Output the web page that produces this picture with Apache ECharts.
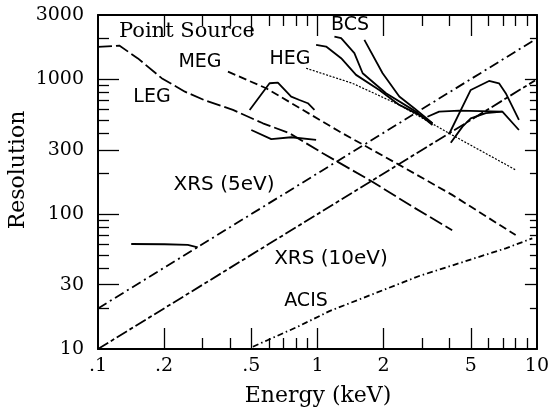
<!DOCTYPE html>
<html>
<head>
<meta charset="utf-8">
<script src="https://cdn.jsdelivr.net/npm/echarts@6/dist/echarts.min.js"></script>
<style>html,body{margin:0;padding:0;background:#fff;}#c{width:552px;height:409px;}</style>
</head>
<body>
<div id="c"></div>
<script>
// ---- tick definitions ----
const xTickValues = [0.1, 0.2, 0.5, 1, 2, 5, 10];
const xTickLabels = ['.1', '.2', '.5', '1', '2', '5', '10'];
const xMajorTicks = [0.2, 0.5, 1, 2, 5];
const xMinorTicks = [0.3, 0.4, 0.6, 0.7, 0.8, 0.9, 3, 4, 6, 7, 8, 9];
const yTickValues = [10, 30, 100, 300, 1000, 3000];
const yTickLabels = ['10', '30', '100', '300', '1000', '3000'];
const yMajorTicks = [30, 100, 300, 1000];
const yMinorTicks = [20, 40, 50, 60, 70, 80, 90, 200, 400, 500, 600, 700, 800, 900, 2000];

// ---- series data (energy keV, resolution) ----
const legE = [0.1, 0.125, 0.152, 0.195, 0.249, 0.306, 0.412, 0.564, 0.746, 1.057, 1.778, 2.703, 4.11];
const legR = [1740, 1780, 1430, 1020, 810, 700, 593, 472, 398, 283, 174, 114, 76];
const megE = [0.391, 0.584, 1.259, 2.36, 4.11, 8.0];
const megR = [1140, 859, 410, 232, 139, 70];
const hegE = [0.888, 1.442, 2.36, 3.85, 8.0];
const hegR = [1208, 935, 646, 410, 213];
const bcs1E = [0.986, 1.095, 1.282, 1.499, 1.913, 2.36, 2.908, 3.342];
const bcs1R = [1799, 1750, 1434, 1079, 834, 646, 545, 472];
const bcs2E = [1.195, 1.282, 1.473, 1.607, 2.053, 2.81, 3.342];
const bcs2R = [2075, 2018, 1563, 1109, 789, 576, 459];
const bcs3E = [1.636, 1.981, 2.36, 2.76, 3.342];
const bcs3R = [1960, 1109, 745, 611, 472];
const legPeakE = [0.491, 0.605, 0.660, 0.759, 0.828, 0.904, 0.969];
const legPeakR = [593, 935, 946, 745, 703, 665, 593];
const legLowE = [0.4996, 0.616, 0.759, 0.986];
const legLowR = [421, 360, 372, 355];
const flatE = [0.1417, 0.2009, 0.2565, 0.2848];
const flatR = [60.1, 59.8, 59.1, 56.8];
const hiAE = [3.17, 3.585, 4.42, 6.96, 8.28];
const hiAR = [528, 576, 586, 576, 421];
const hiBE = [3.98, 4.995, 6.05, 6.72, 7.21, 8.28];
const hiBR = [393, 834, 973, 935, 789, 500];
const hiCE = [4.05, 4.58, 4.995, 5.85, 6.96];
const hiCR = [339, 446, 514, 561, 576];
const xrs5E = [0.1, 9.7];
const xrs5R = [20, 1950];
const xrs10E = [0.1, 9.8];
const xrs10R = [10, 980];
const acisE = [0.508, 0.811, 1.134, 2.91, 7.21, 9.53];
const acisR = [10.4, 14.6, 19.1, 34.8, 55.8, 66.2];

const L = Math.log10;
function pts(E, R) { return E.map((e, i) => [L(e), L(R[i])]); }
function fmt(vals, labels) {
  return function (v) {
    for (let i = 0; i < vals.length; i++) if (Math.abs(L(vals[i]) - v) < 1e-6) return labels[i];
    return '';
  };
}

const serif = 'DejaVu Serif';
const sans = 'DejaVu Sans';

function xAx(pos, ticks, len, withLabels, withLine) {
  return {
    type: 'value', position: pos, min: -1, max: 1,
    axisLine: { show: withLine, onZero: false, lineStyle: { color: '#000', width: 2 } },
    splitLine: { show: false },
    axisTick: { show: true, inside: true, length: len, customValues: ticks.map(L), lineStyle: { color: '#000', width: 1.3 } },
    axisLabel: withLabels ? {
      show: true, customValues: xTickValues.map(L), formatter: fmt(xTickValues, xTickLabels),
      fontFamily: serif, fontSize: 19, color: '#000', margin: 8
    } : { show: false }
  };
}
function yAx(pos, ticks, len, withLabels, withLine) {
  return {
    type: 'value', position: pos, min: 1, max: L(3000),
    axisLine: { show: withLine, onZero: false, lineStyle: { color: '#000', width: 2 } },
    splitLine: { show: false },
    axisTick: { show: true, inside: true, length: len, customValues: ticks.map(L), lineStyle: { color: '#000', width: 1.3 } },
    axisLabel: withLabels ? {
      show: true, customValues: yTickValues.map(L), formatter: fmt(yTickValues, yTickLabels),
      fontFamily: serif, fontSize: 19, color: '#000', margin: 14
    } : { show: false }
  };
}

function line(E, R, dash, width) {
  return {
    type: 'line', data: pts(E, R), symbol: 'none', smooth: false, silent: true,
    xAxisIndex: 0, yAxisIndex: 0,
    lineStyle: { color: '#000', width: width || 1.8, type: dash || 'solid' }
  };
}

function txt(text, x, y, font, size, rot) {
  return {
    type: 'text', x: x, y: y, rotation: rot || 0, silent: true,
    style: { text: text, font: size + 'px "' + font + '"', fill: '#000', align: 'center', verticalAlign: 'middle', textAlign: 'center', textVerticalAlign: 'middle' }
  };
}

const chart = echarts.init(document.getElementById('c'), null, { renderer: 'canvas' });
chart.setOption({
  animation: false,
  backgroundColor: '#fff',
  grid: { left: 98, right: 14, top: 15, bottom: 60, containLabel: false },
  xAxis: [
    xAx('bottom', xMajorTicks, 21, true, true),
    xAx('bottom', xMinorTicks, 11, false, false),
    xAx('top', xMajorTicks, 21, false, true),
    xAx('top', xMinorTicks, 11, false, false)
  ],
  yAxis: [
    yAx('left', yMajorTicks, 21, true, true),
    yAx('left', yMinorTicks, 11, false, false),
    yAx('right', yMajorTicks, 12, false, true),
    yAx('right', yMinorTicks, 7, false, false)
  ],
  series: [
    line(legE, legR, [14, 4]),
    line(megE, megR, [8, 4]),
    line(hegE, hegR, [2, 1.5], 1.2),
    line(bcs1E, bcs1R),
    line(bcs2E, bcs2R),
    line(bcs3E, bcs3R),
    line(legPeakE, legPeakR),
    line(legLowE, legLowR),
    line(flatE, flatR),
    line(hiAE, hiAR),
    line(hiBE, hiBR),
    line(hiCE, hiCR),
    line(xrs5E, xrs5R, [10, 4, 2, 4]),
    line(xrs10E, xrs10R, [12, 3, 4, 3]),
    line(acisE, acisR, [6, 3, 1.5, 3])
  ],
  graphic: [
    txt('Point Source', 187, 32, serif, 21),
    txt('MEG', 200, 62, sans, 19),
    txt('HEG', 290, 59, sans, 19),
    txt('LEG', 152, 97, sans, 19),
    txt('BCS', 350, 25, sans, 19),
    txt('XRS (5eV)', 224, 185, sans, 20),
    txt('XRS (10eV)', 331, 259, sans, 20),
    txt('ACIS', 306, 301, sans, 19),
    txt('Energy (keV)', 318, 396, serif, 22),
    txt('Resolution', 18, 170, serif, 22, Math.PI / 2)
  ]
});
</script>
</body>
</html>
